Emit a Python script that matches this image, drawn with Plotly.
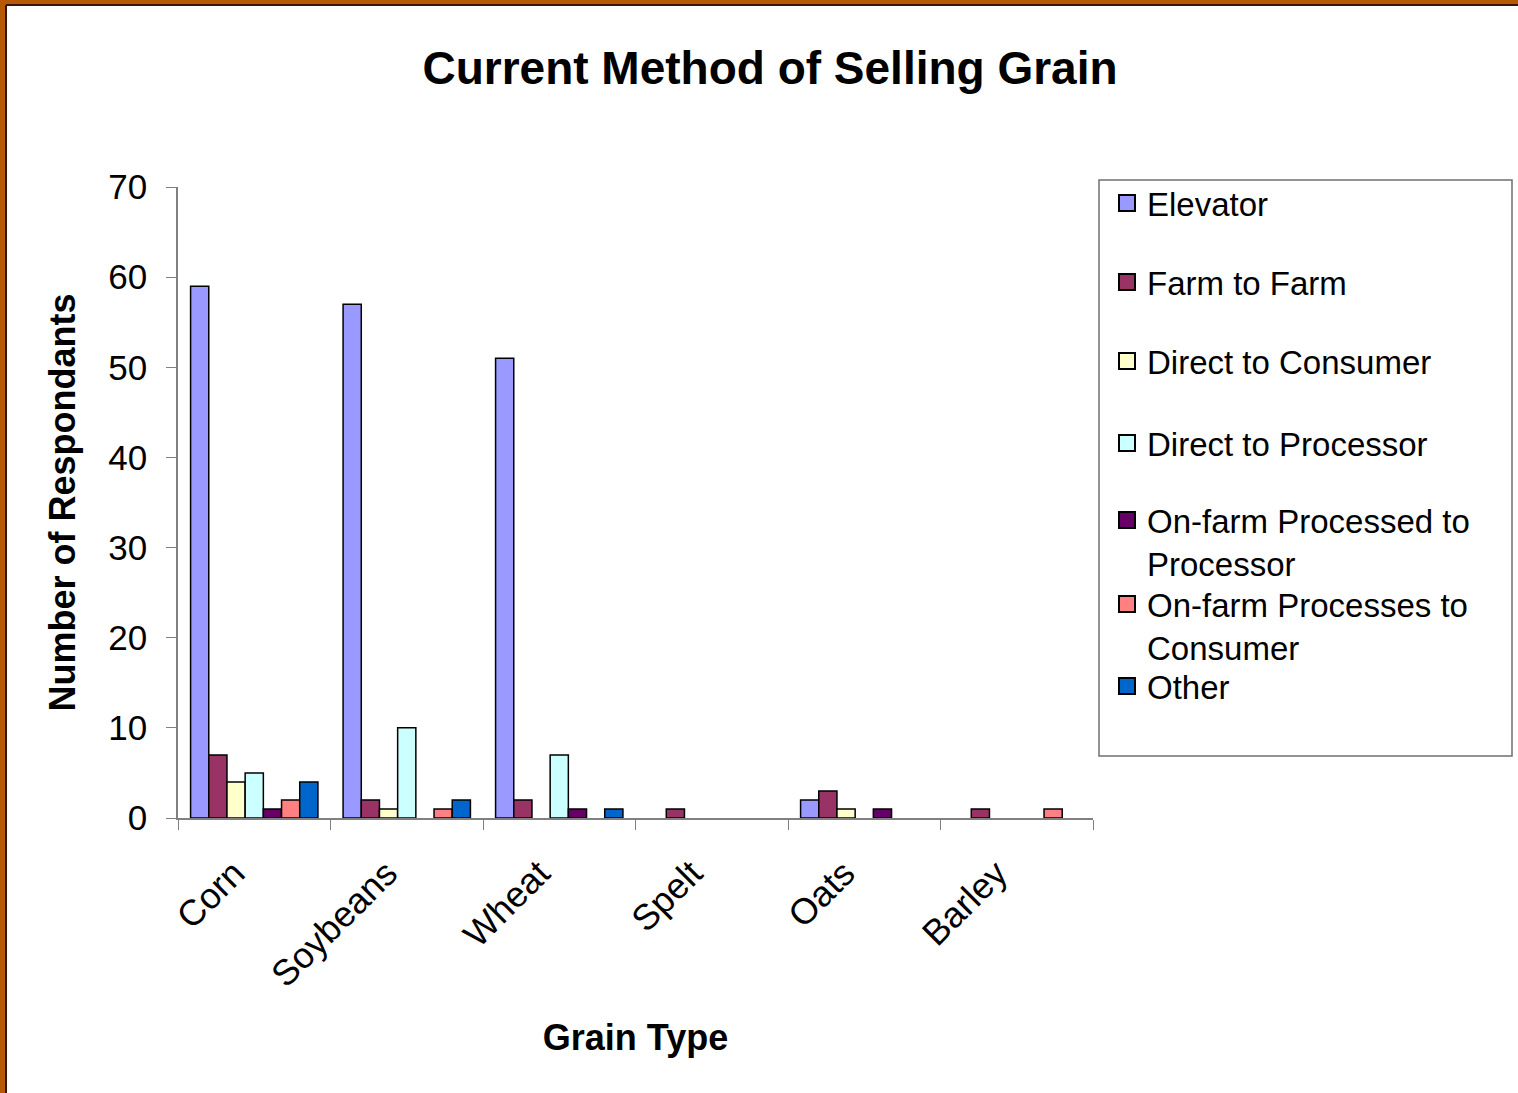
import plotly.graph_objects as go

categories = ["Corn", "Soybeans", "Wheat", "Spelt", "Oats", "Barley"]
series_names = ["Elevator", "Farm to Farm", "Direct to Consumer", "Direct to Processor",
                "On-farm Processed to<br>Processor", "On-farm Processes to<br>Consumer", "Other"]
elevator = [59, 57, 51, 0, 2, 0]
farm_to_farm = [7, 2, 2, 1, 3, 1]
direct_consumer = [4, 1, 0, 0, 1, 0]
direct_processor = [5, 10, 7, 0, 0, 0]
onfarm_processor = [1, 0, 1, 0, 1, 0]
onfarm_consumer = [2, 1, 0, 0, 0, 1]
other = [4, 2, 1, 0, 0, 0]
series_values = [elevator, farm_to_farm, direct_consumer, direct_processor,
                 onfarm_processor, onfarm_consumer, other]
colors = ["#9999FF", "#993366", "#FFFFCC", "#CCFFFF", "#660066", "#FF8080", "#0066CC"]
y_ticks = [0, 10, 20, 30, 40, 50, 60, 70]

FONT = "Liberation Sans, Arial, sans-serif"

W, H = 1518, 1093
L, R, T, B = 178, 425, 187, 275
pw, ph = W - L - R, H - T - B


def px(x):
    return (x - L) / pw


def py(y):
    return (H - B - y) / ph


# legend entry first-line centres (page pixels)
legend_rows = [205, 284, 363, 445, 522, 606, 688]
LEG_OFFSET = 30

fig = go.Figure()
legends = {}
for i, (name, vals, col) in enumerate(zip(series_names, series_values, colors)):
    key = "legend" if i == 0 else f"legend{i + 1}"
    # zero values are not drawn (no flat outline on the axis)
    shown = [v if v else None for v in vals]
    fig.add_trace(go.Bar(
        x=categories, y=shown, name=name, legendgroup=f"g{i}", showlegend=False,
        marker=dict(color=col, line=dict(color="black", width=1.5)),
    ))
    # legend swatch (larger square than the default bar swatch)
    fig.add_trace(go.Scatter(
        x=[None], y=[None], mode="markers", name=name, legendgroup=f"g{i}", legend=key,
        marker=dict(symbol="square", size=16, color=col, line=dict(color="black", width=2)),
        hoverinfo="skip",
    ))
    legends[key] = dict(
        x=px(1107), xanchor="left", y=py(legend_rows[i] - LEG_OFFSET), yanchor="top",
        bgcolor="rgba(0,0,0,0)", borderwidth=0, valign="top", itemsizing="trace",
        font=dict(size=33, family=FONT, color="black"),
    )

fig.update_layout(
    width=W, height=H,
    margin=dict(l=L, r=R, t=T, b=B, autoexpand=False),
    paper_bgcolor="#B45A06",
    plot_bgcolor="white",
    barmode="group", bargap=0.165, bargroupgap=0,
    font=dict(family=FONT, color="black"),
    title=dict(text="<b>Current Method of Selling Grain</b>", x=770 / W, xanchor="center",
               y=1 - 68 / H, yanchor="middle", font=dict(size=46, family=FONT)),
    xaxis=dict(
        showline=True, linecolor="#808080", linewidth=1.5, ticks="outside", ticklen=10,
        tickcolor="#808080", tickson="boundaries", tickangle=-45,
        tickfont=dict(size=36), showgrid=False, ticklabelstandoff=18, ticklabelshift=-20,
        title=dict(text="<b>Grain Type</b>", font=dict(size=36), standoff=31),
    ),
    yaxis=dict(
        range=[0, 70], tickvals=y_ticks, showline=True, linecolor="#808080", linewidth=1.5,
        ticks="outside", ticklen=10, tickcolor="#808080", showgrid=False, zeroline=False,
        tickfont=dict(size=35), ticklabelstandoff=12,
        title=dict(text="<b>Number of Respondants</b>", font=dict(size=36), standoff=22),
    ),
    showlegend=True,
    shapes=[
        dict(type="rect", xref="paper", yref="paper", layer="below",
             x0=px(7), x1=px(W + 20), y0=py(6), y1=py(H + 20),
             fillcolor="white", line=dict(width=0)),
        dict(type="line", xref="paper", yref="paper", layer="below",
             x0=px(6), x1=px(6), y0=py(5), y1=py(H + 20),
             line=dict(color="#3A1500", width=2)),
        dict(type="line", xref="paper", yref="paper", layer="below",
             x0=px(6), x1=px(W + 20), y0=py(5), y1=py(5),
             line=dict(color="#3A1500", width=2)),
        dict(type="rect", xref="paper", yref="paper", layer="below",
             x0=px(1099), x1=px(1512), y0=py(180), y1=py(756),
             fillcolor="white", line=dict(color="#707070", width=1.5)),
    ],
)
fig.update_layout(**legends)

fig.write_html("out.html", config={"displayModeBar": False},
               post_script="document.body.style.margin='0px';")
